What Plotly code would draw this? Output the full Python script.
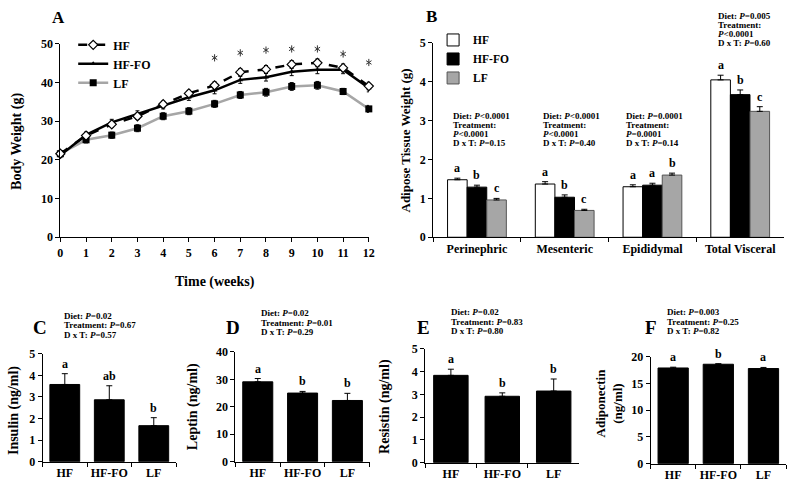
import plotly.graph_objects as go

W, H = 796, 492
FONT = "Liberation Serif"

# ---------------- Data ----------------
weeks = list(range(13))
hf_bw = [21.6, 26.3, 29.2, 31.3, 34.4, 37.2, 39.3, 42.7, 43.4, 44.7, 45.1, 43.8, 39.1]
hf_bw_err = [0.6, 0.7, 0.8, 0.8, 0.8, 0.8, 0.9, 0.9, 1.0, 1.0, 1.0, 1.0, 1.0]
hffo_bw = [21.2, 26.5, 29.7, 31.9, 34.0, 36.2, 38.0, 40.7, 41.4, 42.8, 43.3, 43.3, 38.6]
hffo_bw_err = [0.6, 0.7, 0.8, 0.8, 0.8, 0.8, 0.9, 0.9, 1.0, 1.0, 1.0, 1.0, 1.0]
lf_bw = [21.6, 25.2, 26.4, 28.2, 31.3, 32.6, 34.5, 36.8, 37.5, 39.0, 39.3, 37.7, 33.2]
lf_bw_err = [0.6, 0.8, 0.8, 0.9, 0.9, 0.9, 0.9, 0.9, 1.0, 1.0, 1.0, 0.8, 0.9]
star_weeks = [6, 7, 8, 9, 10, 11, 12]
star_y = [46.4, 47.7, 48.4, 48.7, 48.7, 47.4, 45.2]

depots = ["Perinephric", "Mesenteric", "Epididymal", "Total Visceral"]
hf_fat = [1.48, 1.37, 1.30, 4.05]
hf_fat_err = [0.04, 0.06, 0.05, 0.12]
hffo_fat = [1.29, 1.03, 1.34, 3.67]
hffo_fat_err = [0.05, 0.06, 0.05, 0.12]
lf_fat = [0.96, 0.69, 1.60, 3.24]
lf_fat_err = [0.04, 0.03, 0.05, 0.12]
hf_fat_lab = ["a", "a", "a", "a"]
hffo_fat_lab = ["b", "b", "a", "b"]
lf_fat_lab = ["c", "c", "b", "c"]
fat_stats = [
    ["Diet: <i>P</i>&lt;0.0001", "Treatment:", "<i>P</i>&lt;0.0001", "D x T: <i>P</i>=0.15"],
    ["Diet: <i>P</i>&lt;0.0001", "Treatment:", "<i>P</i>&lt;0.0001", "D x T: <i>P</i>=0.40"],
    ["Diet: <i>P</i>=0.0001", "Treatment:", "<i>P</i>=0.0001", "D x T: <i>P</i>=0.14"],
    ["Diet: <i>P</i>=0.005", "Treatment:", "<i>P</i>&lt;0.0001", "D x T: <i>P</i>=0.60"],
]

groups = ["HF", "HF-FO", "LF"]
insulin = [3.58, 2.87, 1.67]
insulin_err = [0.50, 0.65, 0.37]
insulin_lab = ["a", "ab", "b"]
leptin = [29.1, 25.0, 22.3]
leptin_err = [1.2, 0.6, 2.6]
leptin_lab = ["a", "b", "b"]
resistin = [3.84, 2.92, 3.15]
resistin_err = [0.27, 0.15, 0.53]
resistin_lab = ["a", "b", "b"]
adipo = [17.9, 18.6, 17.8]
adipo_err = [0.15, 0.10, 0.20]
adipo_lab = ["a", "b", "a"]
hormone_stats = [
    ["Diet: <i>P</i>=0.02", "Treatment: <i>P</i>=0.67", "D x T: <i>P</i>=0.57"],
    ["Diet: <i>P</i>=0.02", "Treatment: <i>P</i>=0.01", "D x T: <i>P</i>=0.29"],
    ["Diet: <i>P</i>=0.02", "Treatment: <i>P</i>=0.83", "D x T: <i>P</i>=0.80"],
    ["Diet: <i>P</i>=0.003", "Treatment: <i>P</i>=0.25", "D x T: <i>P</i>=0.82"],
]

# ---------------- helpers ----------------
def dx(a, b):
    return [a / W, b / W]

def dy(top, bottom):
    return [1 - bottom / H, 1 - top / H]

def px(x):
    return x / W

def py(y):
    return 1 - y / H

bold = dict(family=FONT, color="black", weight="bold")

def axis_common(**kw):
    d = dict(showline=True, linecolor="black", linewidth=1, ticks="outside",
             ticklen=4, tickcolor="black", showgrid=False, zeroline=False,
             tickfont=dict(bold, size=12), fixedrange=True)
    d.update(kw)
    return d

fig = go.Figure()
annotations = []

def ann(text, x, y, size, xanchor="center", yanchor="middle", angle=0):
    annotations.append(dict(text=text, x=px(x), y=py(y), xref="paper", yref="paper",
                            showarrow=False, xanchor=xanchor, yanchor=yanchor,
                            textangle=angle,
                            font=dict(family=FONT, size=size, color="black", weight="bold")))

# ---------------- Panel A ----------------
fig.add_trace(go.Scatter(
    x=weeks, y=lf_bw, name="LF", mode="lines+markers", xaxis="x", yaxis="y",
    line=dict(color="#a6a6a6", width=2.5),
    marker=dict(symbol="square", size=7, color="black"),
    error_y=dict(type="data", array=lf_bw_err, color="black", thickness=1, width=2),
    cliponaxis=False, legend="legend", legendrank=3))
fig.add_trace(go.Scatter(
    x=weeks, y=hffo_bw, name="HF-FO", mode="lines+markers", xaxis="x", yaxis="y",
    line=dict(color="black", width=2.5),
    marker=dict(symbol="triangle-up", size=5, color="black"),
    error_y=dict(type="data", array=hffo_bw_err, color="black", thickness=1, width=2),
    cliponaxis=False, legend="legend", legendrank=2))
fig.add_trace(go.Scatter(
    x=weeks, y=hf_bw, name="HF", mode="lines+markers", xaxis="x", yaxis="y",
    line=dict(color="black", width=2.5, dash="dash"),
    marker=dict(symbol="diamond", size=7, color="white", line=dict(color="black", width=1.2)),
    error_y=dict(type="data", array=hf_bw_err, color="black", thickness=1, width=2),
    cliponaxis=False, legend="legend", legendrank=1))

# significance asterisks (six-spoke: two overlaid Y markers)
for sym in ["y-up-open", "y-down-open"]:
    fig.add_trace(go.Scatter(
        x=star_weeks, y=star_y, mode="markers", xaxis="x", yaxis="y",
        marker=dict(symbol=sym, size=4.5, color="#333333", line=dict(color="#333333", width=1)),
        showlegend=False, cliponaxis=False, hoverinfo="skip"))

# ---------------- Panel B ----------------
bar_specs = [
    ("HF", hf_fat, hf_fat_err, hf_fat_lab, "white", "black"),
    ("HF-FO", hffo_fat, hffo_fat_err, hffo_fat_lab, "black", "black"),
    ("LF", lf_fat, lf_fat_err, lf_fat_lab, "#a6a6a6", "#555555"),
]
for i, (nm, vals, errs, labs, fc, lc) in enumerate(bar_specs):
    fig.add_trace(go.Bar(
        x=depots, y=vals, name=nm, xaxis="x2", yaxis="y2", offsetgroup=str(i),
        marker=dict(color=fc, line=dict(color=lc, width=1)),
        error_y=dict(type="data", array=errs, arrayminus=[0] * len(errs), symmetric=False,
                     color="black", thickness=1, width=3),
        legend="legend2"))

bw = 0.67 / 3
for i, (nm, vals, errs, labs, fc, lc) in enumerate(bar_specs):
    for j, (v, e, l) in enumerate(zip(vals, errs, labs)):
        annotations.append(dict(text=l, x=j + (i - 1) * bw, y=v + e, xref="x2", yref="y2",
                                showarrow=False, yanchor="bottom", yshift=1,
                                font=dict(family=FONT, size=12, color="black", weight="bold")))

# ---------------- Panels C-F ----------------
hormones = [
    (insulin, insulin_err, insulin_lab, "x3", "y3"),
    (leptin, leptin_err, leptin_lab, "x4", "y4"),
    (resistin, resistin_err, resistin_lab, "x5", "y5"),
    (adipo, adipo_err, adipo_lab, "x6", "y6"),
]
for vals, errs, labs, xa, ya in hormones:
    fig.add_trace(go.Bar(
        x=groups, y=vals, xaxis=xa, yaxis=ya, showlegend=False,
        marker=dict(color="black", line=dict(color="black", width=1)),
        error_y=dict(type="data", array=errs, arrayminus=[0] * len(errs), symmetric=False,
                     color="black", thickness=1, width=3)))
    for g, v, e, l in zip(groups, vals, errs, labs):
        annotations.append(dict(text=l, x=g, y=v + e, xref=xa, yref=ya, showarrow=False,
                                yanchor="bottom", yshift=1,
                                font=dict(family=FONT, size=12, color="black", weight="bold")))

# ---------------- Text annotations ----------------
ann("A", 56, 11, 17)
ann("B", 433, 10, 17)
ann("C", 37, 330, 19)
ann("D", 233, 330, 19)
ann("E", 425, 330, 19)
ann("F", 655, 330, 19)

ann("Body Weight (g)", 14, 138, 14, angle=-90)
ann("Time (weeks)", 214, 283, 14)
ann("Adipose Tissue Weight (g)", 407, 137, 13, angle=-90)
ann("Insulin (ng/ml)", 11, 415, 14, angle=-90)
ann("Leptin (ng/ml)", 192, 411, 14, angle=-90)
ann("Resistin (ng/ml)", 387, 411, 14, angle=-90)
ann("Adiponectin<br>(ng/ml)", 613, 408, 13, angle=-90)

fat_stat_pos = [(453, 112), (544, 112), (628, 112), (721, 9)]
for lines, (sx, sy) in zip(fat_stats, fat_stat_pos):
    for k, t in enumerate(lines):
        ann(t, sx, sy + k * 9.3, 9, xanchor="left")

hor_stat_pos = [(60, 318), (259, 315), (451, 314), (670, 314)]
for lines, (sx, sy) in zip(hormone_stats, hor_stat_pos):
    for k, t in enumerate(lines):
        ann(t, sx, sy + k * 9.8, 9, xanchor="left")

# ---------------- Layout ----------------
cat_axis = dict(type="category", tickson="boundaries", tickangle=0,
                tickfont=dict(bold, size=12))

fig.update_layout(
    width=W, height=H, margin=dict(l=0, r=0, t=0, b=0),
    paper_bgcolor="white", plot_bgcolor="white",
    font=dict(family=FONT, color="black"),
    barmode="group", bargap=0.33, bargroupgap=0,
    annotations=annotations,
    legend=dict(x=px(71), y=py(24), xanchor="left", yanchor="top",
                bgcolor="rgba(0,0,0,0)", font=dict(bold, size=12),
                itemwidth=30, tracegroupgap=0),
    legend2=dict(x=px(435), y=py(19), xanchor="left", yanchor="top",
                 bgcolor="rgba(0,0,0,0)", font=dict(bold, size=11.5),
                 tracegroupgap=0),
    xaxis=axis_common(domain=dx(58, 370), range=[0, 12], tickvals=weeks, anchor="y"),
    yaxis=axis_common(domain=dy(38, 237), range=[0, 50], dtick=10, anchor="x"),
    xaxis2=axis_common(domain=dx(435, 790), anchor="y2", **cat_axis),
    yaxis2=axis_common(domain=dy(37, 237), range=[0, 5], dtick=1, anchor="x2"),
    xaxis3=axis_common(domain=dx(40, 175), anchor="y3", **cat_axis),
    yaxis3=axis_common(domain=dy(357, 468), range=[0, 5], dtick=1, anchor="x3"),
    xaxis4=axis_common(domain=dx(235, 371), anchor="y4", **cat_axis),
    yaxis4=axis_common(domain=dy(355, 468), range=[0, 40], dtick=10, anchor="x4"),
    xaxis5=axis_common(domain=dx(427, 583), anchor="y5", **cat_axis),
    yaxis5=axis_common(domain=dy(352, 469), range=[0, 5], dtick=1, anchor="x5"),
    xaxis6=axis_common(domain=dx(655, 792), anchor="y6", **cat_axis),
    yaxis6=axis_common(domain=dy(360, 470), range=[0, 20], dtick=5, anchor="x6"),
)

fig.write_html("out.html", config={"displayModeBar": False},
               post_script="document.body.style.margin='0';document.body.style.overflow='hidden';")
